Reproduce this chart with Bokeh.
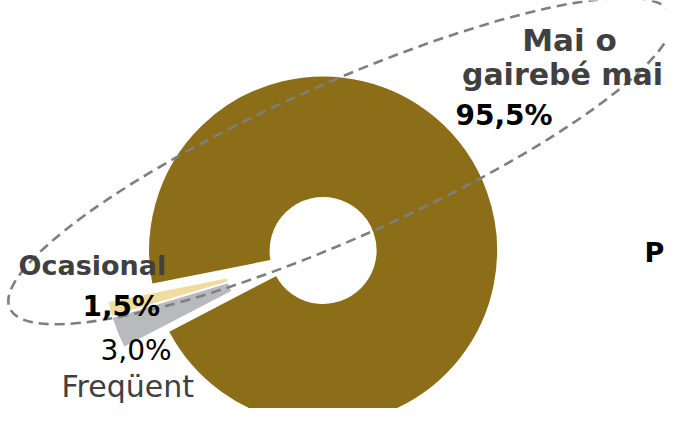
import math
from bokeh.plotting import figure
from bokeh.models import Range1d, ColumnDataSource
from bokeh.core.properties import value
from bokeh.embed import file_html
from bokeh.resources import INLINE

# ---- data ----
categories = ["Mai o gairebé mai", "Ocasional", "Freqüent"]
shares = [95.5, 1.5, 3.0]
colors = ["#8B6E17", "#F2DC9D", "#B8BABD"]
pct_labels = [f"{v:.1f}".replace(".", ",") + "%" for v in shares]

# ---- figure: 1 data unit == 1 screen pixel (reference coordinates, y flipped) ----
W, H = 666, 408
p = figure(width=W, height=H, x_range=Range1d(0, W), y_range=Range1d(-H, 0),
           output_backend="svg", toolbar_location=None, min_border=0,
           x_axis_type=None, y_axis_type=None, outline_line_color=None,
           background_fill_color="white", border_fill_color="white")

# ---- donut ----
cx, cy = 322.6, -250.0
r_out, r_in = 175.0, 52.5
start_deg = 207.5
total = sum(shares)
starts, ends = [], []
a = start_deg
for v in shares:
    starts.append(math.radians(a))
    a += v / total * 360.0
    ends.append(math.radians(a))

# explode the small slices together, along their combined mid angle
small_mid = (starts[1] + ends[-1]) / 2 + math.radians(1.2)
d = 47.0
xs, ys = [], []
for i in range(len(shares)):
    if i == 0:
        xs.append(cx); ys.append(cy)
    else:
        xs.append(cx + d * math.cos(small_mid)); ys.append(cy + d * math.sin(small_mid))

src = ColumnDataSource(dict(x=xs, y=ys, start=starts, end=ends, color=colors, cat=categories))
p.annular_wedge(x="x", y="y", inner_radius=r_in, outer_radius=r_out,
                start_angle="start", end_angle="end", fill_color="color",
                line_color="white", line_width=2, source=src)

# ---- dashed ellipse ----
p.ellipse(x=340, y=-160.6, width=724, height=154, angle=math.radians(24),
          fill_color=None, line_color="#7F7F7F", line_width=2.6, line_dash="10 6")

# ---- labels ----
font = value("DejaVu Sans")
words = categories[0].split(" ")
line1, line2 = " ".join(words[:2]), " ".join(words[2:])

p.text(x=[569], y=[-39], text=[line1], text_font=font,
       text_font_size="31px", text_font_style="bold", text_color="#404040",
       text_align="center", text_baseline="alphabetic")
p.text(x=[562], y=[-74], text=[line2], text_font=font,
       text_font_size="30px", text_font_style="bold", text_color="#404040",
       text_align="center", text_baseline="alphabetic")
p.text(x=[455], y=[-115], text=[pct_labels[0]], text_font=font, text_font_size="28px",
       text_font_style="bold", text_color="#000000", text_baseline="alphabetic")

p.text(x=[18], y=[-265], text=[categories[1]], text_font=font, text_font_size="27px",
       text_font_style="bold", text_color="#404040", text_baseline="alphabetic")
p.text(x=[82], y=[-306], text=[pct_labels[1]], text_font=font, text_font_size="28px",
       text_font_style="bold", text_color="#000000", text_baseline="alphabetic")

p.text(x=[100], y=[-350], text=[pct_labels[2]], text_font=font, text_font_size="28px",
       text_color="#000000", text_baseline="alphabetic")
p.text(x=[61], y=[-386], text=[categories[2]], text_font=font, text_font_size="30px",
       text_color="#404040", text_baseline="alphabetic")

p.text(x=[644], y=[-252], text=["P"], text_font=font, text_font_size="27px",
       text_font_style="bold", text_color="#000000", text_baseline="alphabetic")

open("out.html", "w").write(file_html(p, INLINE))
